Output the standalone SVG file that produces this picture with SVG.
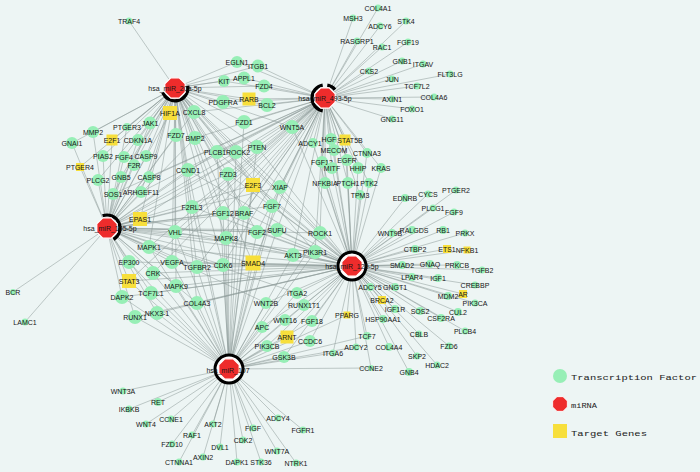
<svg xmlns="http://www.w3.org/2000/svg" xmlns:xlink="http://www.w3.org/1999/xlink" width="700" height="472" viewBox="0 0 700 472">
<style>
.edges path{fill:none;stroke:#8a9896;stroke-width:.6;stroke-opacity:.85}
.tf circle{fill:#97efb6}
.tg rect{fill:#f7df3c}
text{font-family:"Liberation Sans",Arial,sans-serif;font-size:7px;text-anchor:middle;fill:#161616}
.cr{fill:none;stroke:#000;stroke-width:3.2}
.ring{fill:#fff;stroke:#000;stroke-width:3}
.lg{font-family:"Liberation Mono","Courier New",monospace;text-anchor:start;fill:#222}
</style>
<defs>
<polygon id="oct" points="4.2,-10.2 10.2,-4.2 10.2,4.2 4.2,10.2 -4.2,10.2 -10.2,4.2 -10.2,-4.2 -4.2,-10.2" fill="#ee2c2c" stroke="#fff" stroke-width="1.2"/>
</defs>
<rect width="700" height="472" fill="#edf5f4"/>
<g class="edges">
<path d="M175 88L129 21M175 88L237 62M175 88L258 66M175 88L224 81M175 88L244 78M175 88L264 86M175 88L223 102M175 88L249 99M175 88L267 105M175 88L170 113M175 88L194 112M175 88L244 122M175 88L127 127M175 88L150 123M175 88L93 132M175 88L112 140M175 88L138 140M175 88L176 135M175 88L195 138M175 88L257 147M175 88L236 152M175 88L217 152M175 88L72 143M175 88L103 156M175 88L124 157M175 88L146 156M175 88L134 165M175 88L80 167M175 88L188 170M175 88L98 180M175 88L121 177M175 88L149 177M175 88L228 174M175 88L253 185M175 88L113 194M175 88L141 192M175 88L280 187M175 88L192 207M175 88L272 206M175 88L140 219M175 88L223 213M175 88L244 213M175 88L175 232M175 88L257 232M175 88L226 238M175 88L223 265M175 88L253 263M175 88L197 267M175 88L172 262M175 88L149 247M175 88L320 233M175 88L315 252M175 88L292 127M175 88L197 303M175 88L176 286"/>
<path d="M325 98L378 8M325 98L353 18M325 98L406 21M325 98L380 26M325 98L357 41M325 98L382 47M325 98L408 42M325 98L402 61M325 98L423 64M325 98L369 71M325 98L450 74M325 98L392 79M325 98L417 86M325 98L392 99M325 98L434 97M325 98L412 109M325 98L392 119M325 98L292 127M325 98L313 143M325 98L331 139M325 98L345 140M325 98L334 150M325 98L367 153M325 98L322 162M325 98L347 160M325 98L332 168M325 98L358 168M325 98L381 168M325 98L325 183M325 98L348 183M325 98L369 183M325 98L360 195M325 98L237 62M325 98L258 66M325 98L244 78M325 98L264 86M325 98L249 99M325 98L267 105M325 98L224 81M325 98L223 102M325 98L244 122M325 98L257 147M325 98L236 152M325 98L217 152M325 98L253 185M325 98L280 187M325 98L272 206M325 98L228 174M325 98L188 170M325 98L320 233M325 98L315 252M325 98L277 230M325 98L257 232M325 98L244 213M325 98L223 213M325 98L226 238M325 98L194 112M325 98L195 138M325 98L192 207M325 98L175 232M325 98L140 219M325 98L141 192M325 98L253 263M325 98L223 265M325 98L293 255M325 98L197 267M325 98L113 194M325 98L149 177M325 98L153 273M325 98L129 281M325 98L149 247"/>
<path d="M107 228L80 167M107 228L98 180M107 228L121 177M107 228L113 194M107 228L141 192M107 228L140 219M107 228L13 292M107 228L25 322M107 228L149 247M107 228L129 262M107 228L129 281M107 228L122 297M107 228L153 273M107 228L151 293M107 228L135 317M107 228L157 313M107 228L175 232M107 228L192 207M107 228L172 262M107 228L176 286M107 228L197 303M107 228L72 143M107 228L93 132M107 228L103 156M107 228L112 140M107 228L124 157M107 228L134 165M107 228L149 177M107 228L146 156M107 228L138 140M107 228L150 123M107 228L127 127M107 228L170 113M107 228L176 135M107 228L188 170M107 228L223 213M107 228L226 238M107 228L223 265M107 228L197 267M107 228L253 263M107 228L293 255M107 228L195 138M107 228L217 152M107 228L228 174M107 228L253 185M107 228L280 187M107 228L272 206M107 228L257 232M107 228L277 230M107 228L244 213M107 228L320 233M107 228L315 252M107 228L297 293M107 228L266 303M107 228L194 112M107 228L236 152M107 228L257 147"/>
<path d="M352 266L405 198M352 266L428 194M352 266L456 190M352 266L433 208M352 266L454 212M352 266L392 233M352 266L412 230M352 266L443 230M352 266L465 233M352 266L415 249M352 266L447 249M352 266L467 250M352 266L402 265M352 266L430 264M352 266L457 265M352 266L482 270M352 266L412 277M352 266L438 278M352 266L475 285M352 266L370 287M352 266L395 287M352 266L448 296M352 266L463 294M352 266L475 303M352 266L382 300M352 266L395 309M352 266L420 311M352 266L458 312M352 266L441 318M352 266L383 319M352 266L347 315M352 266L419 334M352 266L465 331M352 266L367 336M352 266L449 346M352 266L356 347M352 266L389 347M352 266L333 353M352 266L417 356M352 266L437 365M352 266L371 368M352 266L409 372M352 266L320 233M352 266L315 252M352 266L293 255M352 266L360 195M352 266L369 183M352 266L348 183M352 266L325 183M352 266L381 168M352 266L358 168M352 266L332 168M352 266L347 160M352 266L322 162M352 266L334 150M352 266L331 139M352 266L313 143M352 266L345 140M352 266L367 153M352 266L253 263M352 266L223 265M352 266L226 238M352 266L257 232M352 266L277 230M352 266L280 187M352 266L272 206M352 266L253 185M352 266L244 213M352 266L223 213M352 266L297 293M352 266L304 305M352 266L312 321M352 266L310 341M352 266L287 337M352 266L285 320M352 266L266 303M352 266L262 327M352 266L267 346M352 266L284 357M352 266L197 267M352 266L172 262M352 266L176 286M352 266L197 303M352 266L129 262M352 266L129 281M352 266L153 273M352 266L149 247M352 266L175 232M352 266L192 207M352 266L140 219M352 266L292 127M352 266L257 147M352 266L236 152M352 266L217 152M352 266L228 174M352 266L188 170M352 266L151 293M352 266L122 297M352 266L157 313M352 266L135 317"/>
<path d="M229 369L123 391M229 369L158 402M229 369L129 409M229 369L146 424M229 369L171 419M229 369L213 424M229 369L192 435M229 369L172 444M229 369L220 447M229 369L179 462M229 369L203 457M229 369L237 462M229 369L261 462M229 369L243 440M229 369L253 428M229 369L277 451M229 369L296 463M229 369L278 418M229 369L303 430M229 369L197 303M229 369L157 313M229 369L135 317M229 369L284 357M229 369L267 346M229 369L310 341M229 369L287 337M229 369L262 327M229 369L285 320M229 369L312 321M229 369L266 303M229 369L297 293M229 369L304 305M229 369L253 263M229 369L223 265M229 369L226 238M229 369L197 267M229 369L176 286M229 369L151 293M229 369L122 297M229 369L223 213M229 369L244 213M229 369L257 232M229 369L277 230M229 369L253 185M229 369L280 187M229 369L272 206M229 369L293 255M229 369L315 252M229 369L320 233M229 369L188 170M229 369L228 174M229 369L217 152M229 369L236 152M229 369L257 147M229 369L244 122M229 369L192 207M229 369L175 232M229 369L172 262M229 369L153 273M229 369L129 281M229 369L129 262M229 369L149 247M229 369L347 315M229 369L333 353M229 369L356 347M229 369L367 336M229 369L371 368"/>
</g>
<g id="nodes">
<g id="n_TRAF4" class="tf"><circle cx="129" cy="21" r="3.5"/><text x="129" y="23.5">TRAF4</text></g>
<g id="n_EGLN1" class="tf"><circle cx="237" cy="62" r="6"/><text x="237" y="64.5">EGLN1</text></g>
<g id="n_ITGB1" class="tf"><circle cx="258" cy="66" r="6.5"/><text x="258" y="68.5">ITGB1</text></g>
<g id="n_KIT" class="tf"><circle cx="224" cy="81" r="6"/><text x="224" y="83.5">KIT</text></g>
<g id="n_APPL1" class="tf"><circle cx="244" cy="78" r="6.5"/><text x="244" y="80.5">APPL1</text></g>
<g id="n_FZD4" class="tf"><circle cx="264" cy="86" r="6.5"/><text x="264" y="88.5">FZD4</text></g>
<g id="n_PDGFRA" class="tf"><circle cx="223" cy="102" r="7"/><text x="223" y="104.5">PDGFRA</text></g>
<g id="n_RARB" class="tg"><rect x="242.5" y="92.5" width="13" height="13"/><text x="249" y="101.5">RARB</text></g>
<g id="n_BCL2" class="tf"><circle cx="267" cy="105" r="7"/><text x="267" y="107.5">BCL2</text></g>
<g id="n_HIF1A" class="tg"><rect x="163" y="106" width="14" height="14"/><text x="170" y="115.5">HIF1A</text></g>
<g id="n_CXCL8" class="tf"><circle cx="194" cy="112" r="7"/><text x="194" y="114.5">CXCL8</text></g>
<g id="n_FZD1" class="tf"><circle cx="244" cy="122" r="7"/><text x="244" y="124.5">FZD1</text></g>
<g id="n_PTGER3" class="tf"><circle cx="127" cy="127" r="4"/><text x="127" y="129.5">PTGER3</text></g>
<g id="n_JAK1" class="tf"><circle cx="150" cy="123" r="6.5"/><text x="150" y="125.5">JAK1</text></g>
<g id="n_MMP2" class="tf"><circle cx="93" cy="132" r="6"/><text x="93" y="134.5">MMP2</text></g>
<g id="n_E2F1" class="tg"><rect x="106.5" y="134.5" width="11" height="11"/><text x="112" y="142.5">E2F1</text></g>
<g id="n_CDKN1A" class="tf"><circle cx="138" cy="140" r="6"/><text x="138" y="142.5">CDKN1A</text></g>
<g id="n_FZD7" class="tf"><circle cx="176" cy="135" r="7"/><text x="176" y="137.5">FZD7</text></g>
<g id="n_BMP2" class="tf"><circle cx="195" cy="138" r="7"/><text x="195" y="140.5">BMP2</text></g>
<g id="n_PTEN" class="tf"><circle cx="257" cy="147" r="7"/><text x="257" y="149.5">PTEN</text></g>
<g id="n_ROCK2" class="tf"><circle cx="236" cy="152" r="7"/><text x="238" y="154.5">ROCK2</text></g>
<g id="n_PLCB1" class="tf"><circle cx="217" cy="152" r="7"/><text x="215" y="154.5">PLCB1</text></g>
<g id="n_GNAI1" class="tf"><circle cx="72" cy="143" r="6"/><text x="72" y="145.5">GNAI1</text></g>
<g id="n_PIAS2" class="tf"><circle cx="103" cy="156" r="6"/><text x="103" y="158.5">PIAS2</text></g>
<g id="n_FGF4" class="tf"><circle cx="124" cy="157" r="6"/><text x="124" y="159.5">FGF4</text></g>
<g id="n_CASP9" class="tf"><circle cx="146" cy="156" r="6"/><text x="146" y="158.5">CASP9</text></g>
<g id="n_F2R" class="tf"><circle cx="134" cy="165" r="6"/><text x="134" y="167.5">F2R</text></g>
<g id="n_PTGER4" class="tg"><rect x="76" y="163" width="8" height="8"/><text x="80" y="169.5">PTGER4</text></g>
<g id="n_CCND1" class="tf"><circle cx="188" cy="170" r="7"/><text x="188" y="172.5">CCND1</text></g>
<g id="n_PLCG2" class="tf"><circle cx="98" cy="180" r="6"/><text x="98" y="182.5">PLCG2</text></g>
<g id="n_GNB5" class="tf"><circle cx="121" cy="177" r="6"/><text x="121" y="179.5">GNB5</text></g>
<g id="n_CASP8" class="tf"><circle cx="149" cy="177" r="6"/><text x="149" y="179.5">CASP8</text></g>
<g id="n_FZD3" class="tf"><circle cx="228" cy="174" r="7"/><text x="228" y="176.5">FZD3</text></g>
<g id="n_E2F3" class="tg"><rect x="246" y="178" width="14" height="14"/><text x="253" y="187.5">E2F3</text></g>
<g id="n_SOS1" class="tf"><circle cx="113" cy="194" r="6"/><text x="113" y="196.5">SOS1</text></g>
<g id="n_ARHGEF11" class="tf"><circle cx="141" cy="192" r="6"/><text x="141" y="194.5">ARHGEF11</text></g>
<g id="n_XIAP" class="tf"><circle cx="280" cy="187" r="7"/><text x="280" y="189.5">XIAP</text></g>
<g id="n_F2RL3" class="tf"><circle cx="192" cy="207" r="7"/><text x="192" y="209.5">F2RL3</text></g>
<g id="n_FGF7" class="tf"><circle cx="272" cy="206" r="7"/><text x="272" y="208.5">FGF7</text></g>
<g id="n_EPAS1" class="tg"><rect x="133" y="212" width="14" height="14"/><text x="140" y="221.5">EPAS1</text></g>
<g id="n_FGF12" class="tf"><circle cx="223" cy="213" r="7"/><text x="223" y="215.5">FGF12</text></g>
<g id="n_BRAF" class="tf"><circle cx="244" cy="213" r="7"/><text x="244" y="215.5">BRAF</text></g>
<g id="n_VHL" class="tf"><circle cx="175" cy="232" r="7"/><text x="175" y="234.5">VHL</text></g>
<g id="n_FGF2" class="tf"><circle cx="257" cy="232" r="7"/><text x="257" y="234.5">FGF2</text></g>
<g id="n_SUFU" class="tf"><circle cx="277" cy="230" r="7"/><text x="277" y="232.5">SUFU</text></g>
<g id="n_MAPK8" class="tf"><circle cx="226" cy="238" r="7"/><text x="226" y="240.5">MAPK8</text></g>
<g id="n_MAPK1" class="tf"><circle cx="149" cy="247" r="7"/><text x="149" y="249.5">MAPK1</text></g>
<g id="n_EP300" class="tf"><circle cx="129" cy="262" r="7"/><text x="129" y="264.5">EP300</text></g>
<g id="n_VEGFA" class="tf"><circle cx="172" cy="262" r="7"/><text x="172" y="264.5">VEGFA</text></g>
<g id="n_TGFBR2" class="tf"><circle cx="197" cy="267" r="7"/><text x="197" y="269.5">TGFBR2</text></g>
<g id="n_CDK6" class="tf"><circle cx="223" cy="265" r="7"/><text x="223" y="267.5">CDK6</text></g>
<g id="n_SMAD4" class="tg"><rect x="245.5" y="255.5" width="15" height="15"/><text x="253" y="265.5">SMAD4</text></g>
<g id="n_AKT3" class="tf"><circle cx="293" cy="255" r="7"/><text x="293" y="257.5">AKT3</text></g>
<g id="n_STAT3" class="tg"><rect x="122" y="274" width="14" height="14"/><text x="129" y="283.5">STAT3</text></g>
<g id="n_CRK" class="tf"><circle cx="153" cy="273" r="7"/><text x="153" y="275.5">CRK</text></g>
<g id="n_MAPK9" class="tf"><circle cx="176" cy="286" r="7"/><text x="176" y="288.5">MAPK9</text></g>
<g id="n_TCF7L1" class="tf"><circle cx="151" cy="293" r="7"/><text x="151" y="295.5">TCF7L1</text></g>
<g id="n_DAPK2" class="tf"><circle cx="122" cy="297" r="7"/><text x="122" y="299.5">DAPK2</text></g>
<g id="n_COL4A3" class="tf"><circle cx="197" cy="303" r="7"/><text x="197" y="305.5">COL4A3</text></g>
<g id="n_RUNX1" class="tf"><circle cx="135" cy="317" r="7"/><text x="135" y="319.5">RUNX1</text></g>
<g id="n_NKX3-1" class="tf"><circle cx="157" cy="313" r="7"/><text x="157" y="315.5">NKX3-1</text></g>
<g id="n_WNT2B" class="tf"><circle cx="266" cy="303" r="6"/><text x="266" y="305.5">WNT2B</text></g>
<g id="n_ITGA2" class="tf"><circle cx="297" cy="293" r="6"/><text x="297" y="295.5">ITGA2</text></g>
<g id="n_RUNX1T1" class="tf"><circle cx="304" cy="305" r="6"/><text x="304" y="307.5">RUNX1T1</text></g>
<g id="n_WNT16" class="tf"><circle cx="285" cy="320" r="6"/><text x="285" y="322.5">WNT16</text></g>
<g id="n_FGF18" class="tf"><circle cx="312" cy="321" r="6"/><text x="312" y="323.5">FGF18</text></g>
<g id="n_APC" class="tf"><circle cx="262" cy="327" r="6"/><text x="262" y="329.5">APC</text></g>
<g id="n_ARNT" class="tg"><rect x="280.5" y="330.5" width="13" height="13"/><text x="287" y="339.5">ARNT</text></g>
<g id="n_CCDC6" class="tf"><circle cx="310" cy="341" r="6"/><text x="310" y="343.5">CCDC6</text></g>
<g id="n_PIK3CB" class="tf"><circle cx="267" cy="346" r="6"/><text x="267" y="348.5">PIK3CB</text></g>
<g id="n_GSK3B" class="tf"><circle cx="284" cy="357" r="6"/><text x="284" y="359.5">GSK3B</text></g>
<g id="n_ROCK1" class="tf"><circle cx="320" cy="233" r="7"/><text x="320" y="235.5">ROCK1</text></g>
<g id="n_PIK3R1" class="tf"><circle cx="315" cy="252" r="7"/><text x="315" y="254.5">PIK3R1</text></g>
<g id="n_WNT5A" class="tf"><circle cx="292" cy="127" r="7"/><text x="292" y="129.5">WNT5A</text></g>
<g id="n_ADCY1" class="tf"><circle cx="313" cy="143" r="5"/><text x="310" y="145.5">ADCY1</text></g>
<g id="n_HGF" class="tf"><circle cx="331" cy="139" r="6"/><text x="329" y="141.5">HGF</text></g>
<g id="n_STAT5B" class="tg"><rect x="339.5" y="134.5" width="11" height="11"/><text x="350" y="142.5">STAT5B</text></g>
<g id="n_MECOM" class="tf"><circle cx="334" cy="150" r="6"/><text x="334" y="152.5">MECOM</text></g>
<g id="n_CTNNA3" class="tf"><circle cx="367" cy="153" r="5"/><text x="367" y="155.5">CTNNA3</text></g>
<g id="n_FGF13" class="tf"><circle cx="322" cy="162" r="6"/><text x="322" y="164.5">FGF13</text></g>
<g id="n_EGFR" class="tf"><circle cx="347" cy="160" r="6"/><text x="347" y="162.5">EGFR</text></g>
<g id="n_MITF" class="tf"><circle cx="332" cy="168" r="6"/><text x="332" y="170.5">MITF</text></g>
<g id="n_HHIP" class="tf"><circle cx="358" cy="168" r="6"/><text x="358" y="170.5">HHIP</text></g>
<g id="n_KRAS" class="tf"><circle cx="381" cy="168" r="5"/><text x="381" y="170.5">KRAS</text></g>
<g id="n_NFKBIA" class="tf"><circle cx="325" cy="183" r="6"/><text x="325" y="185.5">NFKBIA</text></g>
<g id="n_PTCH1" class="tf"><circle cx="348" cy="183" r="6"/><text x="348" y="185.5">PTCH1</text></g>
<g id="n_PTK2" class="tf"><circle cx="369" cy="183" r="5"/><text x="369" y="185.5">PTK2</text></g>
<g id="n_TPM3" class="tf"><circle cx="360" cy="195" r="5"/><text x="360" y="197.5">TPM3</text></g>
<g id="n_COL4A1" class="tf"><circle cx="378" cy="8" r="3.5"/><text x="378" y="10.5">COL4A1</text></g>
<g id="n_MSH3" class="tf"><circle cx="353" cy="18" r="3.5"/><text x="353" y="20.5">MSH3</text></g>
<g id="n_STK4" class="tf"><circle cx="406" cy="21" r="3.5"/><text x="406" y="23.5">STK4</text></g>
<g id="n_ADCY6" class="tf"><circle cx="380" cy="26" r="3.5"/><text x="380" y="28.5">ADCY6</text></g>
<g id="n_RASGRP1" class="tf"><circle cx="357" cy="41" r="3.5"/><text x="357" y="43.5">RASGRP1</text></g>
<g id="n_RAC1" class="tf"><circle cx="382" cy="47" r="3.5"/><text x="382" y="49.5">RAC1</text></g>
<g id="n_FGF19" class="tf"><circle cx="408" cy="42" r="3.5"/><text x="408" y="44.5">FGF19</text></g>
<g id="n_GNB1" class="tf"><circle cx="402" cy="61" r="3.5"/><text x="402" y="63.5">GNB1</text></g>
<g id="n_ITGAV" class="tf"><circle cx="423" cy="64" r="3.5"/><text x="423" y="66.5">ITGAV</text></g>
<g id="n_CKS2" class="tf"><circle cx="369" cy="71" r="3.5"/><text x="369" y="73.5">CKS2</text></g>
<g id="n_FLT3LG" class="tf"><circle cx="450" cy="74" r="3.5"/><text x="450" y="76.5">FLT3LG</text></g>
<g id="n_JUN" class="tf"><circle cx="392" cy="79" r="3.5"/><text x="392" y="81.5">JUN</text></g>
<g id="n_TCF7L2" class="tf"><circle cx="417" cy="86" r="3.5"/><text x="417" y="88.5">TCF7L2</text></g>
<g id="n_AXIN1" class="tf"><circle cx="392" cy="99" r="3.5"/><text x="392" y="101.5">AXIN1</text></g>
<g id="n_COL4A6" class="tf"><circle cx="434" cy="97" r="3.5"/><text x="434" y="99.5">COL4A6</text></g>
<g id="n_FOXO1" class="tf"><circle cx="412" cy="109" r="3.5"/><text x="412" y="111.5">FOXO1</text></g>
<g id="n_GNG11" class="tf"><circle cx="392" cy="119" r="3.5"/><text x="392" y="121.5">GNG11</text></g>
<g id="n_BCR" class="tf"><circle cx="13" cy="292" r="3"/><text x="13" y="294.5">BCR</text></g>
<g id="n_LAMC1" class="tf"><circle cx="25" cy="322" r="3.5"/><text x="25" y="324.5">LAMC1</text></g>
<g id="n_EDNRB" class="tf"><circle cx="405" cy="198" r="4"/><text x="405" y="200.5">EDNRB</text></g>
<g id="n_CYCS" class="tf"><circle cx="428" cy="194" r="3.5"/><text x="428" y="196.5">CYCS</text></g>
<g id="n_PTGER2" class="tf"><circle cx="456" cy="190" r="3.5"/><text x="456" y="192.5">PTGER2</text></g>
<g id="n_PLCG1" class="tf"><circle cx="433" cy="208" r="3.5"/><text x="433" y="210.5">PLCG1</text></g>
<g id="n_FGF9" class="tf"><circle cx="454" cy="212" r="3.5"/><text x="454" y="214.5">FGF9</text></g>
<g id="n_WNT9B" class="tf"><circle cx="392" cy="233" r="4"/><text x="390" y="235.5">WNT9B</text></g>
<g id="n_RALGDS" class="tf"><circle cx="412" cy="230" r="4"/><text x="414" y="232.5">RALGDS</text></g>
<g id="n_RB1" class="tf"><circle cx="443" cy="230" r="4"/><text x="443" y="232.5">RB1</text></g>
<g id="n_PRKX" class="tf"><circle cx="465" cy="233" r="3.5"/><text x="465" y="235.5">PRKX</text></g>
<g id="n_CTBP2" class="tf"><circle cx="415" cy="249" r="4"/><text x="415" y="251.5">CTBP2</text></g>
<g id="n_ETS1" class="tg"><rect x="443" y="245" width="8" height="8"/><text x="447" y="251.5">ETS1</text></g>
<g id="n_NFKB1" class="tg"><rect x="463.5" y="246.5" width="7" height="7"/><text x="467" y="252.5">NFKB1</text></g>
<g id="n_SMAD2" class="tf"><circle cx="402" cy="265" r="4"/><text x="402" y="267.5">SMAD2</text></g>
<g id="n_GNAQ" class="tf"><circle cx="430" cy="264" r="4"/><text x="430" y="266.5">GNAQ</text></g>
<g id="n_PRKCB" class="tf"><circle cx="457" cy="265" r="4"/><text x="457" y="267.5">PRKCB</text></g>
<g id="n_TGFB2" class="tf"><circle cx="482" cy="270" r="3.5"/><text x="482" y="272.5">TGFB2</text></g>
<g id="n_LPAR4" class="tf"><circle cx="412" cy="277" r="4"/><text x="412" y="279.5">LPAR4</text></g>
<g id="n_IGF1" class="tf"><circle cx="438" cy="278" r="4"/><text x="438" y="280.5">IGF1</text></g>
<g id="n_CREBBP" class="tf"><circle cx="475" cy="285" r="3.5"/><text x="475" y="287.5">CREBBP</text></g>
<g id="n_ADCY5" class="tf"><circle cx="370" cy="287" r="4"/><text x="370" y="289.5">ADCY5</text></g>
<g id="n_GNGT1" class="tf"><circle cx="395" cy="287" r="4"/><text x="395" y="289.5">GNGT1</text></g>
<g id="n_MDM2" class="tf"><circle cx="448" cy="296" r="4"/><text x="448" y="298.5">MDM2</text></g>
<g id="n_AR" class="tg"><rect x="459" y="290" width="8" height="8"/><text x="463" y="296.5">AR</text></g>
<g id="n_PIK3CA" class="tf"><circle cx="475" cy="303" r="3.5"/><text x="475" y="305.5">PIK3CA</text></g>
<g id="n_BRCA2" class="tg"><rect x="378" y="296" width="8" height="8"/><text x="382" y="302.5">BRCA2</text></g>
<g id="n_IGF1R" class="tf"><circle cx="395" cy="309" r="4"/><text x="395" y="311.5">IGF1R</text></g>
<g id="n_SOS2" class="tf"><circle cx="420" cy="311" r="4"/><text x="420" y="313.5">SOS2</text></g>
<g id="n_CUL2" class="tf"><circle cx="458" cy="312" r="4"/><text x="458" y="314.5">CUL2</text></g>
<g id="n_CSF2RA" class="tf"><circle cx="441" cy="318" r="4"/><text x="441" y="320.5">CSF2RA</text></g>
<g id="n_HSP90AA1" class="tf"><circle cx="383" cy="319" r="4"/><text x="383" y="321.5">HSP90AA1</text></g>
<g id="n_PPARG" class="tg"><rect x="343.5" y="311.5" width="7" height="7"/><text x="347" y="317.5">PPARG</text></g>
<g id="n_CBLB" class="tf"><circle cx="419" cy="334" r="3.5"/><text x="419" y="336.5">CBLB</text></g>
<g id="n_PLCB4" class="tf"><circle cx="465" cy="331" r="3.5"/><text x="465" y="333.5">PLCB4</text></g>
<g id="n_TCF7" class="tf"><circle cx="367" cy="336" r="4"/><text x="367" y="338.5">TCF7</text></g>
<g id="n_FZD6" class="tf"><circle cx="449" cy="346" r="3.5"/><text x="449" y="348.5">FZD6</text></g>
<g id="n_ADCY2" class="tf"><circle cx="356" cy="347" r="3.5"/><text x="356" y="349.5">ADCY2</text></g>
<g id="n_COL4A4" class="tf"><circle cx="389" cy="347" r="4"/><text x="389" y="349.5">COL4A4</text></g>
<g id="n_ITGA6" class="tf"><circle cx="333" cy="353" r="3.5"/><text x="333" y="355.5">ITGA6</text></g>
<g id="n_SKP2" class="tf"><circle cx="417" cy="356" r="3.5"/><text x="417" y="358.5">SKP2</text></g>
<g id="n_HDAC2" class="tf"><circle cx="437" cy="365" r="3.5"/><text x="437" y="367.5">HDAC2</text></g>
<g id="n_CCNE2" class="tf"><circle cx="371" cy="368" r="3"/><text x="371" y="370.5">CCNE2</text></g>
<g id="n_GNB4" class="tf"><circle cx="409" cy="372" r="4"/><text x="409" y="374.5">GNB4</text></g>
<g id="n_WNT3A" class="tf"><circle cx="123" cy="391" r="3.5"/><text x="123" y="393.5">WNT3A</text></g>
<g id="n_RET" class="tf"><circle cx="158" cy="402" r="4"/><text x="158" y="404.5">RET</text></g>
<g id="n_IKBKB" class="tf"><circle cx="129" cy="409" r="3.5"/><text x="129" y="411.5">IKBKB</text></g>
<g id="n_WNT4" class="tf"><circle cx="146" cy="424" r="3.5"/><text x="146" y="426.5">WNT4</text></g>
<g id="n_CCNE1" class="tf"><circle cx="171" cy="419" r="3.5"/><text x="171" y="421.5">CCNE1</text></g>
<g id="n_AKT2" class="tf"><circle cx="213" cy="424" r="3.5"/><text x="213" y="426.5">AKT2</text></g>
<g id="n_RAF1" class="tf"><circle cx="192" cy="435" r="3.5"/><text x="192" y="437.5">RAF1</text></g>
<g id="n_FZD10" class="tf"><circle cx="172" cy="444" r="3.5"/><text x="172" y="446.5">FZD10</text></g>
<g id="n_DVL1" class="tf"><circle cx="220" cy="447" r="3.5"/><text x="220" y="449.5">DVL1</text></g>
<g id="n_CTNNA1" class="tf"><circle cx="179" cy="462" r="3.5"/><text x="179" y="464.5">CTNNA1</text></g>
<g id="n_AXIN2" class="tf"><circle cx="203" cy="457" r="3.5"/><text x="203" y="459.5">AXIN2</text></g>
<g id="n_DAPK1" class="tf"><circle cx="237" cy="462" r="3.5"/><text x="237" y="464.5">DAPK1</text></g>
<g id="n_STK36" class="tf"><circle cx="261" cy="462" r="3.5"/><text x="261" y="464.5">STK36</text></g>
<g id="n_CDK2" class="tf"><circle cx="243" cy="440" r="3.5"/><text x="243" y="442.5">CDK2</text></g>
<g id="n_FIGF" class="tf"><circle cx="253" cy="428" r="3.5"/><text x="253" y="430.5">FIGF</text></g>
<g id="n_WNT7A" class="tf"><circle cx="277" cy="451" r="3.5"/><text x="277" y="453.5">WNT7A</text></g>
<g id="n_NTRK1" class="tf"><circle cx="296" cy="463" r="3.5"/><text x="296" y="465.5">NTRK1</text></g>
<g id="n_ADCY4" class="tf"><circle cx="278" cy="418" r="3.5"/><text x="278" y="420.5">ADCY4</text></g>
<g id="n_FGFR1" class="tf"><circle cx="303" cy="430" r="3.5"/><text x="303" y="432.5">FGFR1</text></g>
</g>
<g id="mirnas">
<g id="hsa_miR_20a-5p"><path class="cr" d="M162.8 92.4A13 13 0 0 0 187.8 85.7"/><use xlink:href="#oct" href="#oct" x="175" y="88"/><text x="175" y="90.5">hsa_miR_20a-5p</text></g>
<g id="hsa_miR_493-5p"><path class="cr" d="M322.7 85.2A13 13 0 0 0 322.7 110.8M327.3 85.2A13 13 0 0 1 335 89.6"/><use xlink:href="#oct" href="#oct" x="325" y="98"/><text x="325" y="100.5">hsa_miR_493-5p</text></g>
<g id="hsa_miR_105-5p"><path class="cr" d="M102.6 215.8A13 13 0 0 1 113.5 239.3"/><use xlink:href="#oct" href="#oct" x="107" y="228"/><text x="110" y="230.5">hsa_miR_105-5p</text></g>
<g id="hsa_miR_129-5p"><circle class="ring" cx="352" cy="266" r="14"/><use xlink:href="#oct" href="#oct" x="352" y="266"/><text x="352" y="268.5">hsa_miR_129-5p</text></g>
<g id="hsa_miR_107"><circle class="ring" cx="229" cy="369" r="14"/><use xlink:href="#oct" href="#oct" x="229" y="369"/><text x="228" y="373">hsa_miR_107</text></g>
</g>
<g id="legend">
<circle cx="560" cy="376" r="7" fill="#97efb6"/>
<text class="lg" x="571" y="380" font-size="14" textLength="126" lengthAdjust="spacingAndGlyphs">Transcription Factor</text>
<use xlink:href="#oct" href="#oct" transform="translate(560 404) scale(.72)"/>
<text class="lg" x="571" y="408" font-size="12" textLength="26" lengthAdjust="spacingAndGlyphs">miRNA</text>
<rect x="553" y="424" width="14" height="14" fill="#f7df3c"/>
<text class="lg" x="571" y="436" font-size="14" textLength="76" lengthAdjust="spacingAndGlyphs">Target Genes</text>
</g>
</svg>
